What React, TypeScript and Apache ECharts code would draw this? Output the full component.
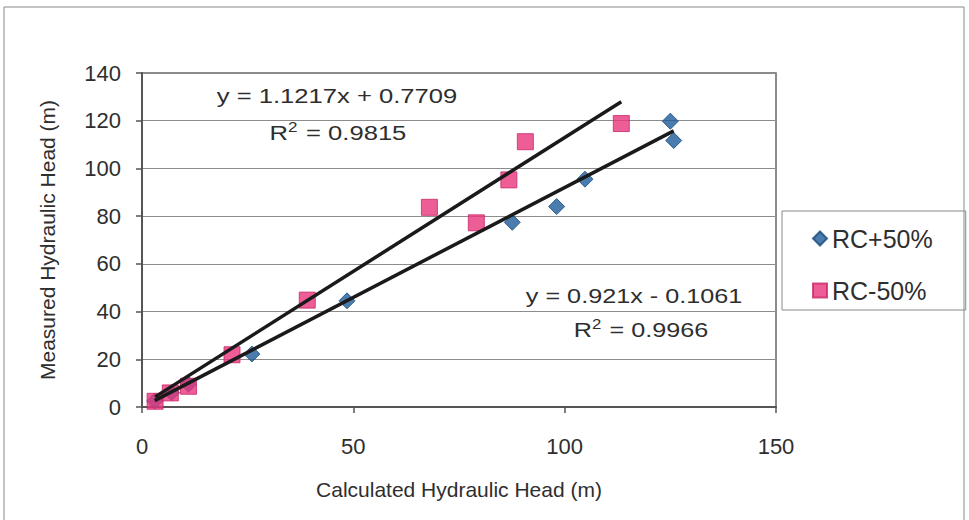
import React, { useEffect, useRef } from 'react';
import * as echarts from 'echarts';

// RC+50% (blue diamonds)
const plusX = [3, 7, 11, 26, 48.5, 87.6, 98.1, 104.8, 125, 125.8];
const plusY = [2.5, 6, 9.5, 22.2, 44.5, 77.4, 84, 95.5, 119.8, 111.7];
// RC-50% (pink squares)
const minusX = [3.1, 6.7, 11, 21.3, 39.1, 68, 79.1, 86.8, 90.7, 113.4];
const minusY = [2.4, 5.9, 8.7, 21.9, 44.8, 83.7, 77.2, 95.2, 111.2, 118.8];

// Trend line fits shown on the chart
const plusFit = { slope: 0.921, intercept: -0.1061, r2: '0.9966', label: 'y = 0.921x - 0.1061' };
const minusFit = { slope: 1.1217, intercept: 0.7709, r2: '0.9815', label: 'y = 1.1217x + 0.7709' };

const seriesNames = ['RC+50%', 'RC-50%'];
const xAxisTitle = 'Calculated Hydraulic Head (m)';
const yAxisTitle = 'Measured Hydraulic Head (m)';

const FONT = '"Liberation Sans", Arial, Helvetica, sans-serif';

function fitLine(xs: number[], fit: { slope: number; intercept: number }) {
  const lo = Math.min(...xs);
  const hi = Math.max(...xs);
  return [
    [lo, fit.slope * lo + fit.intercept],
    [hi, fit.slope * hi + fit.intercept],
  ];
}

function eqText(x: number, y: number, text: string, sx: number) {
  return {
    type: 'text',
    x,
    y,
    scaleX: sx,
    silent: true,
    z: 10,
    style: {
      text,
      fontSize: 21,
      fontFamily: FONT,
      fill: '#2e2e2e',
      align: 'center',
      textAlign: 'center',
      verticalAlign: 'middle',
      textVerticalAlign: 'middle',
      rich: {
        sup: { fontSize: 14, fontFamily: FONT, fill: '#2e2e2e', padding: [0, 1, 12, 0] },
      },
    },
  };
}

export default function App() {
  const ref = useRef<HTMLDivElement>(null);
  useEffect(() => {
    document.body.style.margin = '0';
    if (!ref.current) return;
    const chart = echarts.init(ref.current, null, { renderer: 'svg' });
    const option: any = {
      animation: false,
      backgroundColor: '#ffffff',
      grid: {
        left: 142,
        top: 73,
        right: 193,
        bottom: 113,
        show: true,
        borderColor: '#666',
        borderWidth: 1.5,
        backgroundColor: 'transparent',
      },
      xAxis: {
        type: 'value',
        min: 0,
        max: 150,
        interval: 50,
        name: xAxisTitle,
        nameLocation: 'middle',
        nameGap: 72,
        nameTextStyle: { fontSize: 21, color: '#2e2e2e', fontFamily: FONT },
        axisLine: { show: true, onZero: false, lineStyle: { color: '#555', width: 2 } },
        axisTick: { show: true, length: 6, lineStyle: { color: '#555', width: 1.5 } },
        axisLabel: { fontSize: 22, color: '#2e2e2e', margin: 28, fontFamily: FONT },
        splitLine: { show: false },
      },
      yAxis: {
        type: 'value',
        min: 0,
        max: 140,
        interval: 20,
        name: yAxisTitle,
        nameLocation: 'middle',
        nameGap: 84,
        nameTextStyle: { fontSize: 21, color: '#2e2e2e', fontFamily: FONT },
        axisLine: { show: true, onZero: false, lineStyle: { color: '#555', width: 2 } },
        axisTick: { show: true, length: 6, lineStyle: { color: '#555', width: 1.5 } },
        axisLabel: { fontSize: 22, color: '#2e2e2e', margin: 21, fontFamily: FONT },
        splitLine: { show: true, lineStyle: { color: '#8c8c8c', width: 1 } },
      },
      legend: {
        data: seriesNames,
        orient: 'vertical',
        left: 782,
        top: 211,
        padding: [15, 33, 7, 30],
        itemGap: 27,
        itemWidth: 14,
        itemHeight: 14,
        borderColor: '#888',
        borderWidth: 1,
        borderRadius: 0,
        textStyle: { fontSize: 25, color: '#2e2e2e', lineHeight: 25, fontFamily: FONT },
      },
      series: [
        {
          name: seriesNames[0],
          type: 'scatter',
          symbol: 'diamond',
          symbolSize: 16,
          itemStyle: { color: '#1d5b99', borderColor: '#16487a', borderWidth: 1 },
          data: plusX.map((x, i) => [x, plusY[i]]),
          z: 2,
        },
        {
          name: seriesNames[1],
          type: 'scatter',
          symbol: 'rect',
          symbolSize: 16,
          itemStyle: { color: '#e8347c', borderColor: '#c92566', borderWidth: 1 },
          data: minusX.map((x, i) => [x, minusY[i]]),
          z: 3,
        },
        {
          name: 'fit-minus',
          type: 'line',
          symbol: 'none',
          silent: true,
          lineStyle: { color: '#1a1a1a', width: 3.5 },
          data: fitLine(minusX, minusFit),
          z: 4,
        },
        {
          name: 'fit-plus',
          type: 'line',
          symbol: 'none',
          silent: true,
          lineStyle: { color: '#1a1a1a', width: 3.5 },
          data: fitLine(plusX, plusFit),
          z: 4,
        },
      ],
      graphic: [
        {
          type: 'rect',
          silent: true,
          z: -10,
          shape: { x: 4, y: 7, width: 960, height: 530 },
          style: { fill: 'none', stroke: '#888', lineWidth: 1 },
        },
        eqText(337, 96, minusFit.label, 1.22),
        eqText(338, 133, 'R{sup|2} = ' + minusFit.r2, 1.22),
        eqText(634, 296, plusFit.label, 1.2),
        eqText(641, 330, 'R{sup|2} = ' + plusFit.r2, 1.2),
      ],
    };
    chart.setOption(option);
    return () => chart.dispose();
  }, []);
  return <div ref={ref} style={{ width: 969, height: 520 }} />;
}
